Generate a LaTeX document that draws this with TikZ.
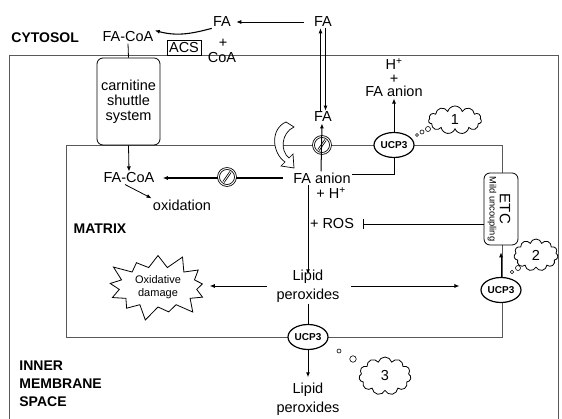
\documentclass[tikz,border=0pt]{standalone}
\usepackage{fontspec}
\setmainfont{Liberation Sans}
\usetikzlibrary{arrows.meta,shapes.geometric,shapes.symbols}

\begin{document}
\begin{tikzpicture}[
		x=1pt, y=1pt, line width=0.8pt,
		every node/.style={font=\fontsize{14.5}{15}\selectfont, inner sep=1pt},
		>={Latex[length=5pt,width=4pt]},
		membrane/.style={draw=black!65, line width=0.7pt},
		ucp/.style={ellipse, draw, line width=1.2pt, fill=white, minimum width=40pt, minimum height=25pt, inner sep=0pt, font=\fontsize{10}{12}\selectfont\bfseries},
		blocked/.style={circle, draw, double, double distance=1pt, fill=white, minimum size=17pt, inner sep=0pt,
			path picture={\draw[double, double distance=0.8pt] ([shift={(-3.5pt,-5pt)}]path picture bounding box.center) -- ([shift={(3.5pt,5pt)}]path picture bounding box.center);}},
		thought/.style={cloud, cloud puffs=11, draw, fill=white, aspect=2, minimum width=53pt, minimum height=28pt, inner sep=0pt},
		bubble/.style={circle, draw, fill=white, inner sep=0pt, line width=0.6pt},
		roundbox/.style={draw, rounded corners=6pt, fill=white},
		label/.style={font=\bfseries\fontsize{14}{18}\selectfont, align=left},
	]
	\useasboundingbox (0,0) rectangle (562,419);

	% membranes
	\draw[membrane] (9,0) |- (558,364) -- (558,0);
	\draw[membrane] (66,82) rectangle (502,274);

	% cytosol
	\node[label, anchor=west] (cyto) at (10,381) {CYTOSOL};
	\node (facoaT) at (128,382) {FA-CoA};
	\node (faL) at (222,397) {FA};
	\node (faR) at (323,397) {FA};
	\node[draw, fill=white, inner sep=2pt] (acs) at (184,371) {ACS};
	\node (plus) at (223,376) {+};
	\node (coa) at (222,361) {CoA};
	\node[roundbox, minimum width=63pt, minimum height=87pt, align=center] (shuttle) at (128.5,317.5) {carnitine\\shuttle\\system};

	\draw[->, shorten <=9pt, shorten >=4pt] (faR.west) -- (faL.east);
	\draw[->, line width=1.1pt] (faL.south west) to[out=-165, in=-15] (facoaT.north east);
	\draw (facoaT.south) -- (shuttle.north);

	% transport across inner membrane
	\node (faIn) at (323,302) {FA};
	\node[blocked] (block1) at (322,274) {};
	\node (faAn) at (322,241) {FA anion};
	\node (hplus) at (331,226) {+ H\textsuperscript{+}};
	\node[ucp] (ucpT) at (394,274) {UCP3};
	\node[align=center, font=\fontsize{14.5}{13.5}\selectfont] (faOut) at (394,341) {H\textsuperscript{+}\\+\\FA anion};
	\node[thought] (cloud1) at (455,299) {1};
	\node[bubble, minimum size=3pt] at (417,284) {};
	\node[bubble, minimum size=4pt] at (422,287) {};
	\node[bubble, minimum size=5pt] at (428,290) {};

	\draw[->] ([xshift=-2.5]faIn.north) -- ([xshift=-2.5]faR.south);
	\draw[->] ([xshift=2.5]faR.south) -- ([xshift=2.5]faIn.north);
	\draw[->, line width=1pt] ([xshift=-1]faAn.north) -- ([xshift=-1]faIn.south);
	\draw[line width=1pt] ([yshift=3]faAn.east) -| (ucpT.south);
	\draw[->] (ucpT.north) -- (faOut.south);
	\draw[fill=white, line width=0.7pt] (286,297) .. controls (270,290) and (272,266) .. (285,257)
		-- (281,253) -- (294,251) -- (293,265) -- (289,261)
		.. controls (280,268) and (281,286) .. (294,292) -- cycle;

	% matrix
	\node (facoaIn) at (129,241) {FA-CoA};
	\node (oxid) at (182,214) {oxidation};
	\node[label] (matrix) at (100,190) {MATRIX};
	\draw[->, line width=1.6pt, shorten <=9pt, shorten >=7pt] (faAn.west) -- (facoaIn.east);
	\node[blocked] (block2) at (227,242) {};
	\draw[->] (shuttle.south) -- (facoaIn.north);
	\draw[->] ([xshift=-4]facoaIn.south) -- (oxid.north west);

	\node (ros) at (332,195) {+ ROS};
	\node[roundbox, minimum width=34pt, minimum height=72pt] (etc) at (501,210) {};
	\node[rotate=-90, font=\fontsize{15}{16}\selectfont] (etcLabel) at ([xshift=4]etc.center) {ETC};
	\node[rotate=-90, font=\fontsize{9.3}{10}\selectfont] (mild) at ([xshift=-9]etc.center) {Mild uncoupling};
	\draw[-{Bar[width=10pt]}] (etc.west |- ros.east) -- ([xshift=8]ros.east);

	\node[align=center, font=\fontsize{14.5}{19}\selectfont] (lipid) at (308,133) {Lipid\\peroxides};
	\node[starburst, starburst points=13, starburst point height=16pt, draw, fill=white, minimum width=110pt, minimum height=72pt, align=center, font=\fontsize{11}{13}\selectfont] (dmg) at (158,132) {Oxidative\\damage};
	\node[ucp] (ucpR) at (501,129) {UCP3};
	\node[thought, minimum width=44pt, minimum height=32pt] (cloud2) at (536,164) {2};
	\node[bubble, minimum size=3.5pt] at (512,147) {};
	\node[bubble, minimum size=5pt] at (518,151) {};

	\draw[->, line width=1pt] (lipid.north |- faAn.south) -- ([yshift=-6]lipid.north);
	\draw[->, shorten <=8pt, shorten >=10pt] (lipid.west) -- (lipid.west -| dmg.east);
	\draw[->, shorten <=10pt, shorten >=21pt] (lipid.east) -- (lipid.east -| ucpR.west);
	\draw[->, shorten >=7pt] (ucpR.north) -- (etc.south);

	% inner membrane space
	\node[ucp] (ucpB) at (308,82) {UCP3};
	\node[align=center, font=\fontsize{14.5}{19}\selectfont] (lipid2) at (308,20) {Lipid\\peroxides};
	\node[thought, minimum width=52pt, minimum height=38pt] (cloud3) at (385,43) {3};
	\node[bubble, minimum size=4pt] at (339,68) {};
	\node[bubble, minimum size=6.5pt] at (353,60) {};
	\node[label, anchor=north west] (ims) at (18,60) {INNER\\MEMBRANE\\SPACE};

	\draw[line width=1pt] (lipid.south) -- (ucpB.north);
	\draw[->, line width=1pt, shorten >=4pt] (ucpB.south) -- (lipid2.north);

\end{tikzpicture}
\end{document}
